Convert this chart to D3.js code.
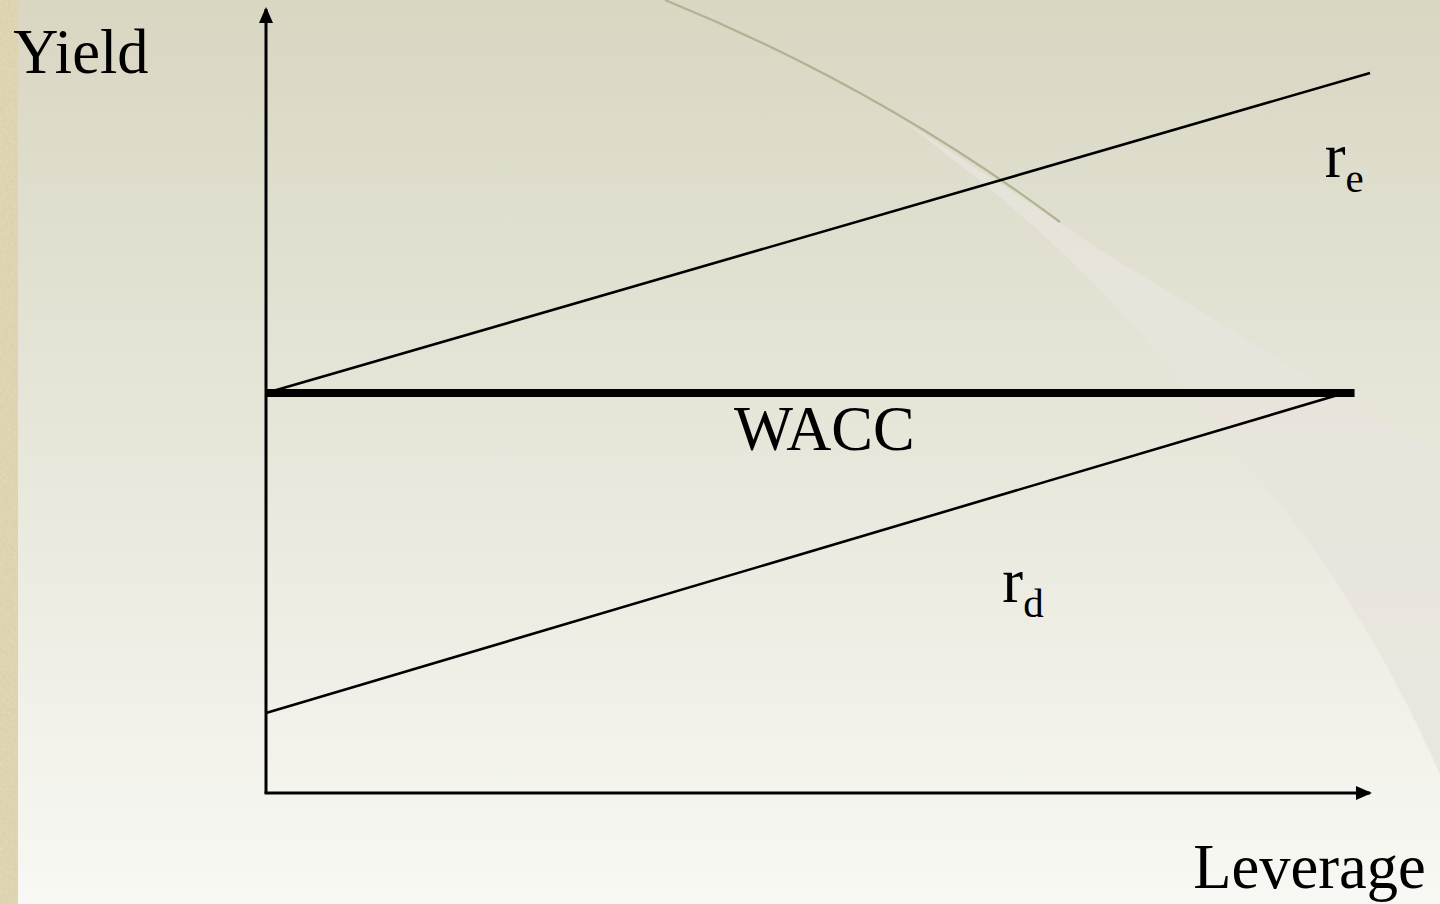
<!DOCTYPE html>
<html>
<head>
<meta charset="utf-8">
<script src="https://cdn.jsdelivr.net/npm/d3@7"></script>
<style>
  html, body { margin: 0; padding: 0; background: #f4f3ee; }
  svg { display: block; }
  .lbl { font-family: "Liberation Serif", "Times New Roman", serif; fill: #000; }
</style>
</head>
<body>
<div id="chart"></div>
<script>
// leverage (x) and yield (y) values, in chart units
const axisX = [0, 1.0];          // horizontal axis extent
const axisY = [0, 9.8];          // vertical axis extent
const reLev = [0, 1.0];
const reYield = [5, 9];
const rdLev = [0, 0.977];
const rdYield = [1, 5];
const waccLev = [0, 0.986];
const waccYield = [5, 5];

const labels = [
  {text: "Yield", x: -0.229, y: 9.0},
  {text: "Leverage", x: 0.84, y: -1.19},
  {text: "WACC", x: 0.424, y: 4.29}
];
const subLabels = [
  {main: "r", sub: "e", x: 0.959, y: 7.7},
  {main: "r", sub: "d", x: 0.667, y: 2.39}
];

const width = 1440, height = 904;

const svg = d3.select("#chart").append("svg")
  .attr("width", width)
  .attr("height", height);

// background
const defs = svg.append("defs");
const bg = defs.append("linearGradient").attr("id", "bg")
  .attr("x1", 0).attr("y1", 0).attr("x2", 0).attr("y2", 1);
bg.append("stop").attr("offset", "0%").attr("stop-color", "#d9d6c2");
bg.append("stop").attr("offset", "45%").attr("stop-color", "#e6e5d8");
bg.append("stop").attr("offset", "100%").attr("stop-color", "#f8f8f4");

const noise = defs.append("filter").attr("id", "grain");
noise.append("feTurbulence").attr("type", "fractalNoise")
  .attr("baseFrequency", 0.35).attr("numOctaves", 2).attr("result", "n");
noise.append("feColorMatrix").attr("type", "matrix")
  .attr("values", "0 0 0 0 0.55  0 0 0 0 0.48  0 0 0 0 0.3  0 0 0 0.35 0");
noise.append("feComposite").attr("in2", "SourceGraphic").attr("operator", "in");

svg.append("rect").attr("width", width).attr("height", height).attr("fill", "url(#bg)");

// pale swoosh on the right
svg.append("path")
  .attr("d", "M905,122 C980,170 1040,210 1100,250 L1440,457 L1440,775 C1400,680 1330,560 1260,480 C1200,400 1130,320 1080,270 C1020,210 960,165 905,122 Z")
  .attr("fill", "#e8e4dd")
  .attr("opacity", 0.85);
svg.append("path")
  .attr("d", "M665,0 C800,55 930,125 1060,222")
  .attr("fill", "none")
  .attr("stroke", "#b1b292")
  .attr("stroke-width", 2.2);

// textured left strip
svg.append("rect").attr("width", 18).attr("height", height).attr("fill", "#e4dab6");
svg.append("rect").attr("width", 18).attr("height", height).attr("fill", "#e4dab6")
  .attr("filter", "url(#grain)");

/***** SCALES *****/
const x = d3.scaleLinear().domain([0, 1]).range([266, 1370]);
const y = d3.scaleLinear().domain([0, 10]).range([793, -7]);

/***** AXES *****/
defs.append("marker").attr("id", "arrow")
  .attr("viewBox", "0 0 16 14").attr("refX", 14).attr("refY", 7)
  .attr("markerWidth", 16).attr("markerHeight", 14).attr("markerUnits", "userSpaceOnUse")
  .attr("orient", "auto")
  .append("path").attr("d", "M0,0 L16,7 L0,14 Z").attr("fill", "#000");

const axes = svg.append("g").attr("class", "axes");
axes.append("line")
  .attr("x1", x(0)).attr("y1", y(axisY[0]))
  .attr("x2", x(0)).attr("y2", y(axisY[1]))
  .attr("stroke", "#000").attr("stroke-width", 3)
  .attr("marker-end", "url(#arrow)");
axes.append("line")
  .attr("x1", x(axisX[0]) - 1.5).attr("y1", y(0))
  .attr("x2", x(axisX[1])).attr("y2", y(0))
  .attr("stroke", "#000").attr("stroke-width", 3)
  .attr("marker-end", "url(#arrow)");

/***** LINES *****/
const line = d3.line().x(d => x(d[0])).y(d => y(d[1]));
const series = [
  {lev: reLev, yld: reYield, w: 2.6},
  {lev: rdLev, yld: rdYield, w: 2.6},
  {lev: waccLev, yld: waccYield, w: 8}
];
svg.selectAll(".series")
  .data(series)
  .enter()
  .append("path")
  .attr("class", "series")
  .attr("d", d => line(d.lev.map((l, i) => [l, d.yld[i]])))
  .attr("fill", "none")
  .attr("stroke", "#000")
  .attr("stroke-width", d => d.w);

/***** LABELS *****/
svg.selectAll(".plain")
  .data(labels)
  .enter()
  .append("text")
  .attr("class", "lbl plain")
  .attr("x", d => x(d.x))
  .attr("y", d => y(d.y))
  .attr("font-size", 62.5)
  .text(d => d.text);

const sub = svg.selectAll(".sub")
  .data(subLabels)
  .enter()
  .append("text")
  .attr("class", "lbl sub")
  .attr("x", d => x(d.x))
  .attr("y", d => y(d.y))
  .attr("font-size", 62.5);
sub.append("tspan").text(d => d.main);
sub.append("tspan").attr("font-size", 41).attr("dy", 15).text(d => d.sub);
</script>
</body>
</html>
